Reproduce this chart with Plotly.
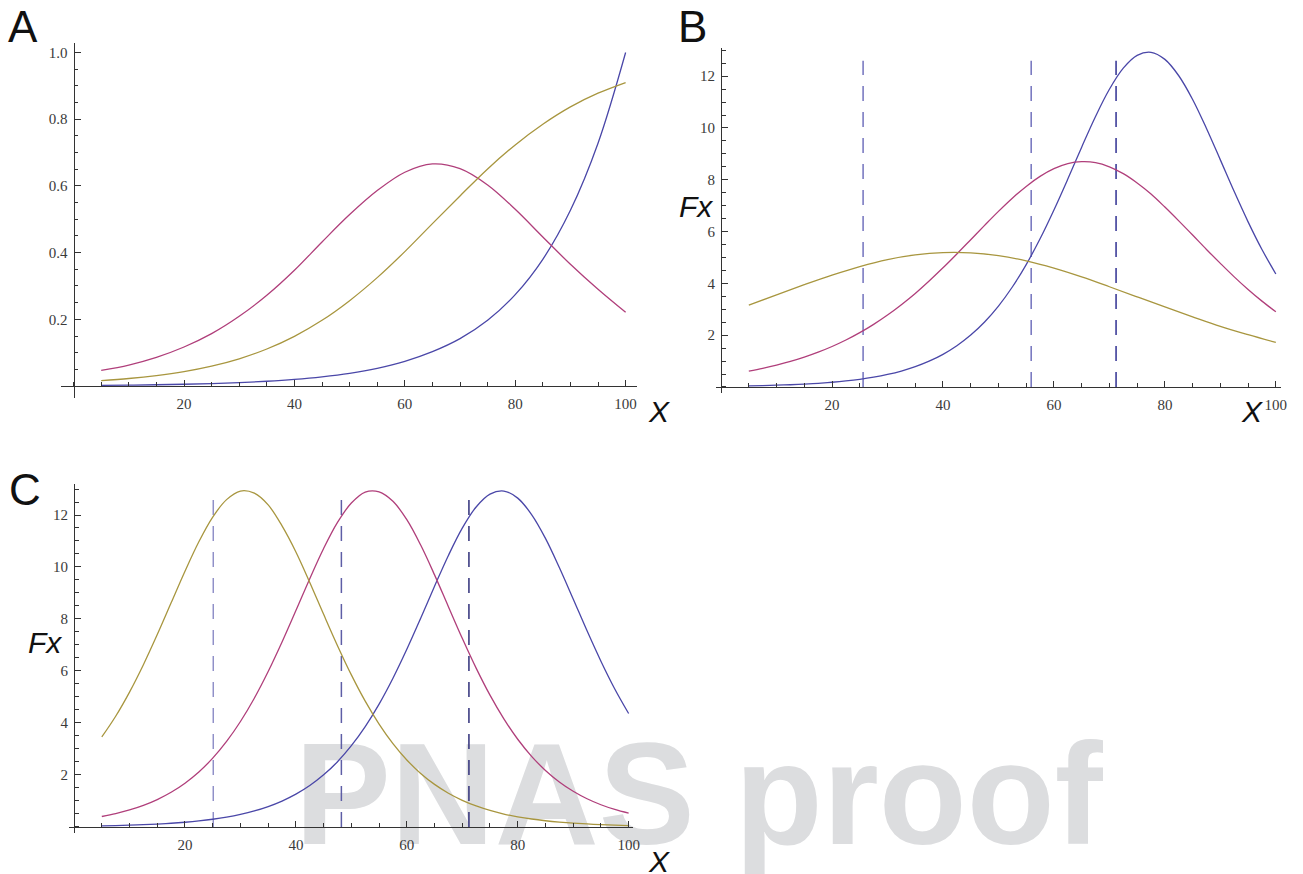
import plotly.graph_objects as go

# ---------------- data ----------------
x_grid = [5, 10, 15, 20, 25, 30, 35, 40, 45, 50, 55, 60, 65, 70, 75, 80, 85, 90, 95, 100]
x_fine = [5, 7.5, 10, 12.5, 15, 17.5, 20, 22.5, 25, 27.5, 30, 32.5, 35, 37.5, 40, 42.5, 45,
          47.5, 50, 52.5, 55, 57.5, 60, 62.5, 65, 67.5, 70, 72.5, 75, 77.5, 80, 82.5, 85,
          87.5, 90, 92.5, 95, 97.5, 100]

# Panel A (on x_grid)
a_blue = [0.002, 0.0028, 0.0038, 0.0053, 0.0074, 0.0103, 0.0143, 0.0198, 0.0275, 0.038,
          0.053, 0.074, 0.103, 0.142, 0.197, 0.274, 0.38, 0.527, 0.728, 1.0]
a_magenta = [0.047, 0.063, 0.086, 0.117, 0.157, 0.209, 0.272, 0.347, 0.432, 0.514,
             0.586, 0.641, 0.666, 0.652, 0.603, 0.53, 0.447, 0.365, 0.29, 0.221]
a_gold = [0.0162, 0.0225, 0.0313, 0.0433, 0.0597, 0.0817, 0.111, 0.149, 0.197, 0.256,
          0.325, 0.403, 0.487, 0.57, 0.651, 0.723, 0.785, 0.837, 0.878, 0.91]

# Panel B (blue, magenta on x_fine; gold on x_grid)
b_blue = [0.041, 0.053, 0.068, 0.087, 0.111, 0.142, 0.182, 0.233, 0.297, 0.379, 0.484,
          0.616, 0.784, 0.996, 1.261, 1.593, 2.004, 2.51, 3.125, 3.86, 4.726, 5.722,
          6.835, 8.029, 9.26, 10.445, 11.494, 12.309, 12.804, 12.922, 12.649, 12.017,
          11.102, 9.981, 8.769, 7.544, 6.376, 5.308, 4.364]
b_magenta = [0.615, 0.721, 0.844, 0.987, 1.153, 1.344, 1.563, 1.813, 2.098, 2.419, 2.779,
             3.179, 3.612, 4.093, 4.601, 5.136, 5.686, 6.239, 6.779, 7.287, 7.745, 8.131,
             8.428, 8.624, 8.698, 8.663, 8.501, 8.236, 7.877, 7.45, 6.946, 6.414, 5.867,
             5.311, 4.774, 4.252, 3.765, 3.315, 2.903]
b_gold = [3.16, 3.56, 3.95, 4.32, 4.65, 4.92, 5.1, 5.19, 5.18, 5.07,
          4.87, 4.59, 4.25, 3.87, 3.48, 3.09, 2.71, 2.34, 2.02, 1.72]
b_thresholds = [25.6, 55.9, 71.2]

# Panel C (all on x_fine)
c_blue = [0.041, 0.053, 0.068, 0.087, 0.111, 0.142, 0.182, 0.233, 0.297, 0.379, 0.484,
          0.616, 0.784, 0.996, 1.261, 1.593, 2.004, 2.51, 3.125, 3.86, 4.726, 5.722,
          6.835, 8.029, 9.26, 10.445, 11.494, 12.309, 12.804, 12.922, 12.649, 12.017,
          11.102, 9.981, 8.769, 7.544, 6.376, 5.308, 4.364]
c_magenta = [0.402, 0.513, 0.653, 0.83, 1.054, 1.334, 1.684, 2.116, 2.646, 3.289, 4.056,
             4.953, 5.979, 7.115, 8.325, 9.551, 10.712, 11.714, 12.46, 12.883, 12.892,
             12.528, 11.819, 10.843, 9.696, 8.473, 7.257, 6.11, 5.07, 4.157, 3.374, 2.717,
             2.174, 1.731, 1.372, 1.084, 0.854, 0.672, 0.528]
c_gold = [3.461, 4.259, 5.188, 6.242, 7.4, 8.621, 9.839, 10.971, 11.92, 12.591, 12.921,
          12.839, 12.387, 11.581, 10.579, 9.406, 8.178, 6.974, 5.849, 4.839, 3.957, 3.205,
          2.577, 2.059, 1.637, 1.297, 1.024, 0.807, 0.634, 0.498, 0.391, 0.306, 0.239,
          0.187, 0.146, 0.115, 0.09, 0.07, 0.055]
c_thresholds = [25.1, 48.2, 71.2]
threshold_top = 12.6

x_ticks = [20, 40, 60, 80, 100]
a_yticks = [0.2, 0.4, 0.6, 0.8, 1.0]
a_yticktext = ["0.2", "0.4", "0.6", "0.8", "1.0"]
bc_yticks = [2, 4, 6, 8, 10, 12]
bc_yticktext = ["2", "4", "6", "8", "10", "12"]

# ---------------- style ----------------
BLUE = "#4a47a8"
MAGENTA = "#b03f7b"
GOLD = "#a8963f"
b_dash_colors = ["#7272bd", "#7272bd", "#2f2f92"]
c_dash_colors = ["#9090c8", "#5e5ea6", "#30307a"]
LW = 1.3
W, H = 1303, 874

fig = go.Figure()


def add_curves(xa, ya, series):
    for xs, ys, col in series:
        fig.add_trace(go.Scatter(x=xs, y=ys, mode="lines",
                                 line=dict(color=col, width=LW, shape="spline", smoothing=1.0),
                                 xaxis=xa, yaxis=ya, showlegend=False, hoverinfo="skip"))


def add_thresholds(xa, ya, xs, cols):
    for xv, col in zip(xs, cols):
        fig.add_trace(go.Scatter(x=[xv, xv], y=[0, threshold_top], mode="lines",
                                 line=dict(color=col, width=1.5, dash="15px,11px"),
                                 xaxis=xa, yaxis=ya, showlegend=False, hoverinfo="skip"))


add_curves("x", "y", [(x_grid, a_blue, BLUE), (x_grid, a_magenta, MAGENTA), (x_grid, a_gold, GOLD)])
add_thresholds("x2", "y2", b_thresholds, b_dash_colors)
add_curves("x2", "y2", [(x_fine, b_blue, BLUE), (x_fine, b_magenta, MAGENTA), (x_grid, b_gold, GOLD)])
add_thresholds("x3", "y3", c_thresholds, c_dash_colors)
add_curves("x3", "y3", [(x_fine, c_blue, BLUE), (x_fine, c_magenta, MAGENTA), (x_fine, c_gold, GOLD)])

tickfont = dict(family="Liberation Serif, Times New Roman, serif", size=15, color="#3a3a3a")
AXC = "#333"


def px_x(p):
    return p / W


def px_y(p):
    return 1 - p / H


def xaxis(dom, rng, pos):
    return dict(domain=dom, range=rng, anchor="free", position=pos,
                showline=True, linecolor=AXC, linewidth=1.2,
                ticks="inside", ticklen=6, tickwidth=1, tickcolor=AXC,
                tickmode="array", tickvals=x_ticks, ticktext=[str(v) for v in x_ticks],
                minor=dict(dtick=5, tick0=0, ticks="inside", ticklen=3.5, tickcolor=AXC, tickwidth=1),
                showgrid=False, zeroline=False, tickfont=tickfont, ticklabelstandoff=4,
                fixedrange=True)


def yaxis(dom, rng, pos, tv, tt, mdt):
    return dict(domain=dom, range=rng, anchor="free", position=pos,
                showline=True, linecolor=AXC, linewidth=1.2,
                ticks="inside", ticklen=6, tickwidth=1, tickcolor=AXC,
                tickmode="array", tickvals=tv, ticktext=tt,
                minor=dict(dtick=mdt, tick0=0, ticks="inside", ticklen=3.5, tickcolor=AXC, tickwidth=1),
                showgrid=False, zeroline=False, tickfont=tickfont, ticklabelstandoff=3,
                fixedrange=True)


fig.update_layout(
    # Panel A
    xaxis=xaxis([px_x(61.8), px_x(640.1)], [-2.2, 102], px_y(386)),
    yaxis=yaxis([px_y(397.7), px_y(42.5)], [-0.035, 1.03], px_x(74), a_yticks, a_yticktext, 0.05),
    # Panel B
    xaxis2=xaxis([px_x(719.4), px_x(1288.3)], [-1, 101], px_y(387)),
    yaxis2=yaxis([px_y(393.2), px_y(47.7)], [-0.24, 13.1], px_x(725), bc_yticks, bc_yticktext, 0.5),
    # Panel C
    xaxis3=xaxis([px_x(68.9), px_x(636.5)], [-1, 100.8], px_y(827)),
    yaxis3=yaxis([px_y(833.2), px_y(483.8)], [-0.24, 13.2], px_x(74.5), bc_yticks, bc_yticktext, 0.5),
)

label_font = dict(family="Liberation Sans, Arial, sans-serif", size=44, color="#111")
title_font = dict(family="Liberation Sans, Arial, sans-serif", size=30, color="#111")

annotations = [
    dict(text="A", x=px_x(6), y=px_y(26), xanchor="left", yanchor="middle"),
    dict(text="B", x=px_x(680), y=px_y(26), xanchor="left", yanchor="middle"),
    dict(text="C", x=px_x(7), y=px_y(489), xanchor="left", yanchor="middle"),
]
for a in annotations:
    a.update(xref="paper", yref="paper", showarrow=False, font=label_font)

titles = [
    dict(text="<i>X</i>", x=px_x(663), y=px_y(411)),
    dict(text="<i>X</i>", x=px_x(1259), y=px_y(411)),
    dict(text="<i>X</i>", x=px_x(663), y=px_y(861)),
    dict(text="<i>Fx</i>", x=px_x(700), y=px_y(207)),
    dict(text="<i>Fx</i>", x=px_x(45), y=px_y(642)),
]
for t in titles:
    t.update(xref="paper", yref="paper", showarrow=False, font=title_font,
             xanchor="center", yanchor="middle")

fig.update_layout(
    width=W, height=H,
    margin=dict(l=0, r=0, t=0, b=0),
    paper_bgcolor="white", plot_bgcolor="rgba(0,0,0,0)",
    annotations=annotations + titles,
    shapes=[dict(type="rect", xref="paper", yref="paper",
                 x0=px_x(290), x1=px_x(1115), y0=px_y(852), y1=px_y(708),
                 line=dict(width=0), fillcolor="rgba(0,0,0,0)", layer="below",
                 label=dict(text="PNAS proof", textposition="middle center",
                            font=dict(family="Liberation Sans, Arial, sans-serif",
                                      size=144, color="#dcdddf", weight="bold")))],
)

fig.write_html("out.html", config={"displayModeBar": False},
               post_script="document.body.style.margin='0';document.body.style.padding='0';")
